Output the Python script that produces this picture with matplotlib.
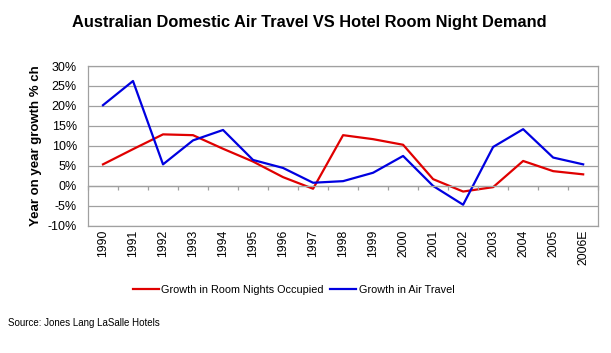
import matplotlib.pyplot as plt
import numpy as np

years = ["1990", "1991", "1992", "1993", "1994", "1995", "1996", "1997", "1998",
         "1999", "2000", "2001", "2002", "2003", "2004", "2005", "2006E"]
room_nights = [5.4, 9.2, 12.9, 12.7, 9.3, 6.1, 2.2, -0.7, 12.7,
               11.7, 10.3, 1.7, -1.4, -0.3, 6.25, 3.7, 2.9]
air_travel = [20.2, 26.25, 5.4, 11.4, 14.0, 6.5, 4.5, 0.8, 1.2,
              3.3, 7.5, 0.0, -4.7, 9.75, 14.2, 7.1, 5.4]
y_ticks = [-10, -5, 0, 5, 10, 15, 20, 25, 30]

plt.rcParams['font.family'] = ['Liberation Sans', 'DejaVu Sans']

fig = plt.figure(figsize=(6.11, 3.53), dpi=100)
ax = fig.add_axes([0.144, 0.36, 0.835, 0.453])

x = np.arange(len(years))
ax.plot(x, room_nights, color='#e00000', lw=1.6, label='Growth in Room Nights Occupied')
ax.plot(x, air_travel, color='#0000e0', lw=1.6, label='Growth in Air Travel')

ax.set_xlim(-0.5, len(years) - 0.5)
ax.set_ylim(-10, 30)
ax.set_yticks(y_ticks)
ax.set_yticklabels([f"{v}%" for v in y_ticks], fontsize=9)
ax.set_xticks(x)
ax.set_xticklabels(years, rotation=90, fontsize=8.8)
ax.tick_params(axis='x', length=0, pad=3)
ax.tick_params(axis='y', length=0, pad=8)
ax.grid(axis='y', color='#a0a0a0', lw=0.9)
ax.set_axisbelow(True)
for s in ax.spines.values():
    s.set_color('#a0a0a0')
    s.set_linewidth(0.9)

# category axis crossing at zero, with tick marks between categories
ax2 = ax.twiny()
ax2.set_xlim(ax.get_xlim())
ax2.set_ylim(ax.get_ylim())
for side in ['top', 'left', 'right']:
    ax2.spines[side].set_visible(False)
ax2.xaxis.set_ticks_position('bottom')
ax2.spines['bottom'].set_position(('data', 0))
ax2.spines['bottom'].set_color('#a0a0a0')
ax2.spines['bottom'].set_linewidth(0.9)
ax2.set_xticks(np.arange(len(years) + 1) - 0.5)
ax2.set_xticklabels([])
ax2.tick_params(axis='x', length=3, color='#a0a0a0', width=0.9)

ax.set_ylabel("Year on year growth % ch", fontsize=9.5, fontweight='bold', labelpad=4)

fig.text(0.507, 0.935, "Australian Domestic Air Travel VS Hotel Room Night Demand",
         ha='center', va='center', fontsize=11.8, fontweight='bold')

ax.legend(loc='center', bbox_to_anchor=(0.403, -0.4), bbox_transform=ax.transAxes,
          ncol=2, frameon=False, fontsize=7.8, handlelength=2.4, columnspacing=0.6,
          handletextpad=0.25)

fig.text(0.013, 0.085, "Source: Jones Lang LaSalle Hotels", fontsize=7.0, va='center')

fig.savefig("out.png", dpi=100)
